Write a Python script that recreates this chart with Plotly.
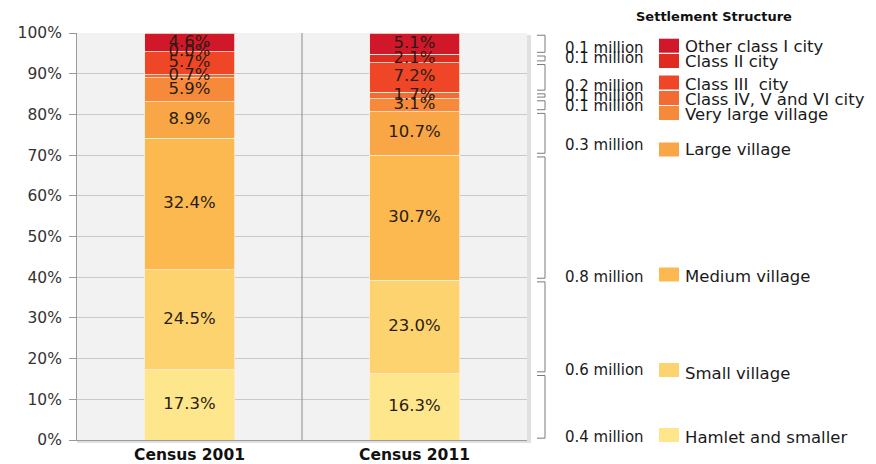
import plotly.graph_objects as go

# Settlement structure shares (%), bottom to top of each stacked bar
censuses = ["Census 2001", "Census 2011"]
classes = [
    "Hamlet and smaller",
    "Small village",
    "Medium village",
    "Large village",
    "Very large village",
    "Class IV, V and VI city",
    "Class III  city",
    "Class II city",
    "Other class I city",
]
share_2001 = [17.3, 24.5, 32.4, 8.9, 5.9, 0.7, 5.7, 0.0, 4.6]
share_2011 = [16.3, 23.0, 30.7, 10.7, 3.1, 1.7, 7.2, 2.1, 5.1]
population_2011 = ["0.4 million", "0.6 million", "0.8 million", "0.3 million",
                   "0.1 million", "0.1 million", "0.2 million", "0.1 million",
                   "0.1 million"]
colors = ["#fde68b", "#fcd36e", "#fbb94f", "#f9a646", "#f7893b",
          "#f26a34", "#ee4626", "#e02b20", "#d0182a"]

# plot-area geometry in pixels (used to place the side legend)
L, R, T, B = 77, 527, 33, 440
W, H = 876, 464


def px(x):
    return (x - L) / (R - L)


def py(y):
    return (B - y) / (B - T)


FONT = "DejaVu Sans, Verdana, sans-serif"

fig = go.Figure()
for i, name in enumerate(classes):
    fig.add_trace(go.Bar(
        x=censuses,
        y=[share_2001[i], share_2011[i]],
        name=name,
        width=0.4,
        marker=dict(color=colors[i], line=dict(color="rgba(255,235,215,0.8)", width=1)),
        hoverinfo="x+y+name",
        showlegend=False,
    ))

# value labels centred on each segment (zero-height segments included)
for j, shares in enumerate([share_2001, share_2011]):
    mids, texts, cum = [], [], 0.0
    for v in shares:
        mids.append(cum + v / 2)
        texts.append(f"{v:.1f}%")
        cum += v
    fig.add_trace(go.Scatter(
        x=[censuses[j]] * len(shares), y=mids, mode="text", text=texts,
        textposition="middle center",
        textfont=dict(family=FONT, size=16.5, color="#2a1c14"),
        showlegend=False, hoverinfo="skip", cliponaxis=False,
    ))

shapes = []
# divider between the two census columns
shapes.append(dict(type="line", xref="x", yref="y", x0=0.5, x1=0.5, y0=0, y1=100,
                   line=dict(color="#8a8a8a", width=1), layer="between"))
# soft shadow along the right and bottom edges of the plot frame
shapes.append(dict(type="rect", xref="paper", yref="paper", x0=1.0, x1=px(R + 4),
                   y0=py(B + 3), y1=py(T + 2), fillcolor="rgba(0,0,0,0.12)",
                   line=dict(width=0), layer="below"))
shapes.append(dict(type="rect", xref="paper", yref="paper", x0=0, x1=1.0,
                   y0=py(B + 3), y1=0, fillcolor="rgba(0,0,0,0.12)",
                   line=dict(width=0), layer="below"))

# brackets spanning each 2011 segment
bx0, bx1 = px(537), px(545)
gap = 0.45
cum = 0.0
for v in share_2011:
    lo, hi = cum + gap, cum + v - gap
    cum += v
    shapes.append(dict(
        type="path", xref="paper", yref="y",
        path=f"M {bx0},{hi} L {bx1},{hi} L {bx1},{lo} L {bx0},{lo}",
        line=dict(color="#7a7a7a", width=1),
    ))

# side legend: swatch centres, label centres and population label centres (px)
swatch_y = [435, 370, 274.5, 149.5, 113, 98, 82.5, 61, 45.7]
label_y = [437, 373, 276, 149, 114, 99, 84, 61, 47]
pop_y = [437, 370, 277, 145, 106, 96, 86, 58, 48]

annotations = []
for i, name in enumerate(classes):
    shapes.append(dict(type="rect", xref="paper", yref="paper",
                       x0=px(659), x1=px(679),
                       y0=py(swatch_y[i] + 7), y1=py(swatch_y[i] - 7),
                       fillcolor=colors[i], line=dict(width=0)))
    annotations.append(dict(x=px(683), y=py(label_y[i]), xref="paper", yref="paper",
                            text=name.replace("  ", "&nbsp; "), showarrow=False,
                            xanchor="left", yanchor="middle",
                            font=dict(family=FONT, size=16.5, color="#1a1a1a")))
    annotations.append(dict(x=px(646), y=py(pop_y[i]), xref="paper", yref="paper",
                            text=population_2011[i], showarrow=False,
                            xanchor="right", yanchor="middle",
                            font=dict(family=FONT, size=15, color="#1a1a1a")))

annotations.append(dict(x=px(714), y=py(17), xref="paper", yref="paper",
                        text="<b>Settlement Structure</b>", showarrow=False,
                        xanchor="center", yanchor="middle",
                        font=dict(family=FONT, size=13, color="#111111")))

fig.update_layout(
    barmode="stack",
    width=W, height=H,
    margin=dict(l=L, r=W - R, t=T, b=H - B, autoexpand=False),
    paper_bgcolor="white",
    plot_bgcolor="#f2f2f2",
    shapes=shapes,
    annotations=annotations,
    xaxis=dict(
        type="category", range=[-0.5, 1.5], automargin=False,
        showgrid=False, zeroline=False,
        showline=True, linecolor="#9a9a9a", linewidth=1,
        ticks="", tickfont=dict(family=FONT, size=15.5, color="#111111"),
        tickvals=censuses, ticktext=[f"<b>{c}</b>" for c in censuses],
        ticklabelstandoff=0,
    ),
    yaxis=dict(
        range=[0, 100], automargin=False,
        tickvals=list(range(0, 101, 10)),
        ticktext=[f"{v}%" for v in range(0, 101, 10)],
        showgrid=True, gridcolor="#c9c9c9", gridwidth=1,
        zeroline=False,
        showline=True, linecolor="#9a9a9a", linewidth=1,
        ticks="outside", ticklen=7, tickcolor="#9a9a9a",
        ticklabelstandoff=4,
        tickfont=dict(family=FONT, size=15.5, color="#333333"),
    ),
)

fig.write_html("out.html")
